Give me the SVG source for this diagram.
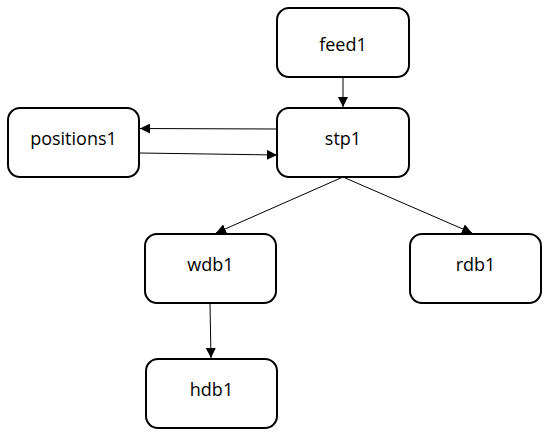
<svg xmlns="http://www.w3.org/2000/svg" width="550" height="433" viewBox="0 0 550 433">
<style>
.box{fill:#fff;stroke:#000;stroke-width:2}
.lbl{font-family:"Open Sans",sans-serif;font-size:18px;fill:#000;text-anchor:middle}
.edge{stroke:#000;stroke-width:1;fill:none;marker-end:url(#arr)}
</style>
<defs>
<marker id="arr" viewBox="0 0 10 10" refX="10" refY="5" markerWidth="10" markerHeight="10" markerUnits="userSpaceOnUse" orient="auto">
<path d="M0,0 L10,5 L0,10 z" fill="#000"/>
</marker>
</defs>
<rect width="550" height="433" fill="#fff"/>
<g id="connectors">
<line class="edge" x1="343" y1="77" x2="343" y2="107"/>
<line class="edge" x1="277" y1="129" x2="140" y2="128.5"/>
<line class="edge" x1="140" y1="153" x2="277" y2="155"/>
<line class="edge" x1="343" y1="177" x2="216" y2="233"/>
<line class="edge" x1="343" y1="177" x2="472" y2="233"/>
<line class="edge" x1="210" y1="304" x2="211" y2="358"/>
</g>
<g id="feed1"><rect class="box" x="277" y="8" width="132" height="69" rx="12"/><text class="lbl" x="343" y="51">feed1</text></g>
<g id="stp1"><rect class="box" x="277" y="108" width="132" height="69" rx="12"/><text class="lbl" x="343" y="145">stp1</text></g>
<g id="positions1"><rect class="box" x="8" y="108" width="131" height="69" rx="12"/><text class="lbl" x="73.5" y="145">positions1</text></g>
<g id="wdb1"><rect class="box" x="145" y="234" width="131" height="69" rx="12"/><text class="lbl" x="210.5" y="271">wdb1</text></g>
<g id="rdb1"><rect class="box" x="410" y="234" width="131" height="69" rx="12"/><text class="lbl" x="475.5" y="271">rdb1</text></g>
<g id="hdb1"><rect class="box" x="146" y="359" width="131" height="69" rx="12"/><text class="lbl" x="211.5" y="396">hdb1</text></g>
</svg>
